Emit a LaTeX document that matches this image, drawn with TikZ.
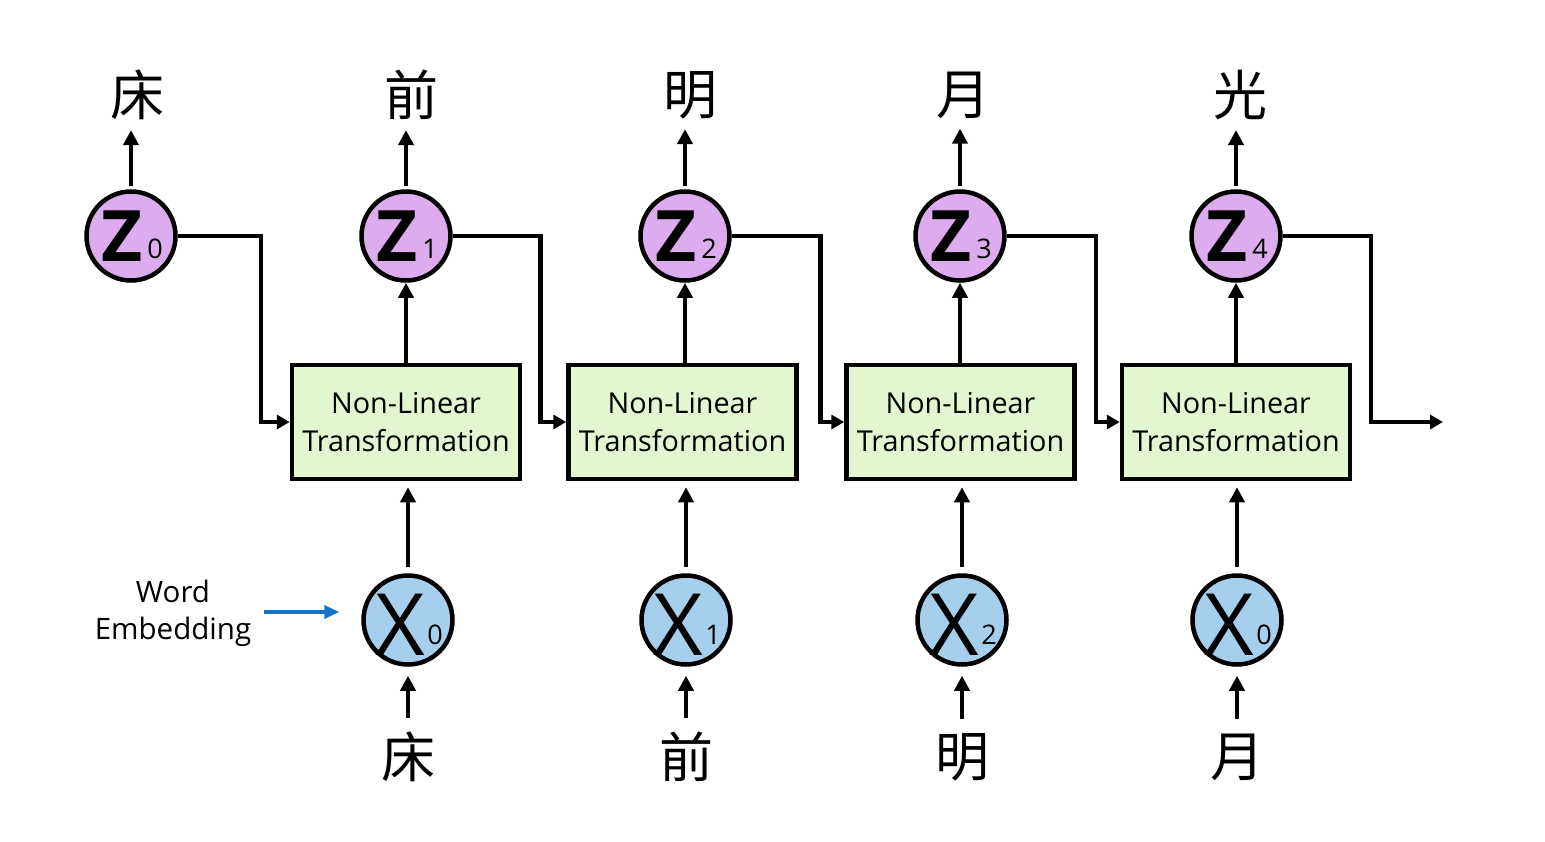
\documentclass[tikz,border=0pt]{standalone}
\usepackage{fontspec}
\setmainfont{Open Sans}
\newfontfamily\cjk{Noto Sans CJK SC}
\usetikzlibrary{arrows.meta}
\definecolor{zfill}{HTML}{DDACEE}
\definecolor{xfill}{HTML}{A5CFEC}
\definecolor{bfill}{HTML}{E2F7CF}
\definecolor{weblue}{HTML}{1372C9}
\tikzset{
  zc/.style={circle,draw=black,line width=4.5pt,fill=zfill,minimum size=89pt,inner sep=0pt},
  xc/.style={circle,draw=black,line width=4.5pt,fill=xfill,minimum size=89pt,inner sep=0pt},
  tbox/.style={draw=black,line width=4.5pt,fill=bfill,minimum width=228pt,minimum height=114pt,align=center,inner sep=0pt,
    font=\fontsize{28.8}{38}\selectfont},
  zlet/.style={inner sep=0pt,font=\fontsize{71}{71}\selectfont\bfseries},
  xlet/.style={inner sep=0pt,font=\fontsize{86}{86}\selectfont},
  sub/.style={inner sep=0pt,font=\fontsize{27}{27}\selectfont},
  ch/.style={inner sep=0pt,font=\fontsize{54}{54}\selectfont\cjk},
  arr/.style={line width=4.5pt,-{Triangle[length=15pt,width=15pt]}},
  conn/.style={line width=4.5pt,-{Triangle[length=13pt,width=14pt]}},
  wetext/.style={align=center,inner sep=0pt,font=\fontsize{29.5}{37}\selectfont},
}
\begin{document}
\begin{tikzpicture}[x=1pt,y=-1pt]
\useasboundingbox (0,0) rectangle (1545,841);
% boxes
\foreach \i/\x in {1/406,2/682.5,3/960.5,4/1236}{
  \node[tbox] (b\i) at (\x,422) {Non-Linear\\Transformation};
}
% Z circles
\foreach \i/\x in {0/131,1/406,2/685,3/960,4/1236}{
  \node[zc] (z\i) at (\x,236) {};
  \node[zlet] (zl\i) at (\x-9,236) {Z};
  \node[sub] (zs\i) at (\x+24,249) {\i};
}
% X circles
\foreach \i/\x/\s in {0/408/0,1/686/1,2/962/2,3/1237/0}{
  \node[xc] (x\i) at (\x,620) {};
  \node[xlet] (xl\i) at (\x-8,625) {X};
  \node[sub] (xs\i) at (\x+27,635) {\s};
}
% top characters
\node[ch] (t0) at (137,95) {床};
\node[ch] (t1) at (411,95) {前};
\node[ch] (t2) at (690,95) {明};
\node[ch] (t3) at (963,95) {月};
\node[ch] (t4) at (1240,95) {光};
% bottom characters
\node[ch] (u0) at (408,757) {床};
\node[ch] (u1) at (686,757) {前};
\node[ch] (u2) at (962,757) {明};
\node[ch] (u3) at (1237,757) {月};
% Z up arrows
\foreach \i in {0,...,4}{
  \draw[arr,shorten <=3pt] (z\i.north) -- ([yshift=-10pt]t\i.south -| z\i.north);
}
% box to Z
\foreach \i in {1,...,4}{
  \draw[arr] (b\i.north -| z\i.south) -- (z\i.south);
}
% X to box, bottom to X
\foreach \i/\j in {0/1,1/2,2/3,3/4}{
  \draw[arr,shorten <=6pt,shorten >=6pt] (x\i.north) -- (b\j.south -| x\i.north);
  \draw[arr,shorten <=14pt,shorten >=9pt] (u\i.north) -- (x\i.south);
}
% recurrent connectors
\draw[conn] (z0.east) -| ([xshift=-29pt]b1.west) -- (b1.west);
\draw[conn] (z1.east) -| ([xshift=-26pt]b2.west) -- (b2.west);
\draw[conn] (z2.east) -| ([xshift=-24pt]b3.west) -- (b3.west);
\draw[conn] (z3.east) -| ([xshift=-24pt]b4.west) -- (b4.west);
\coordinate (out) at (1443,422);
\draw[conn] (z4.east) -| ([xshift=-72pt]out) -- (out);
% word embedding
\node[wetext] (we) at (173,613) {Word\\Embedding};
\draw[line width=3.5pt,weblue,-{Triangle[length=15pt,width=13pt]}] ([xshift=13pt,yshift=1pt]we.east) -- ([xshift=-22pt,yshift=1pt]x0.west |- we.east);
\end{tikzpicture}
\end{document}
